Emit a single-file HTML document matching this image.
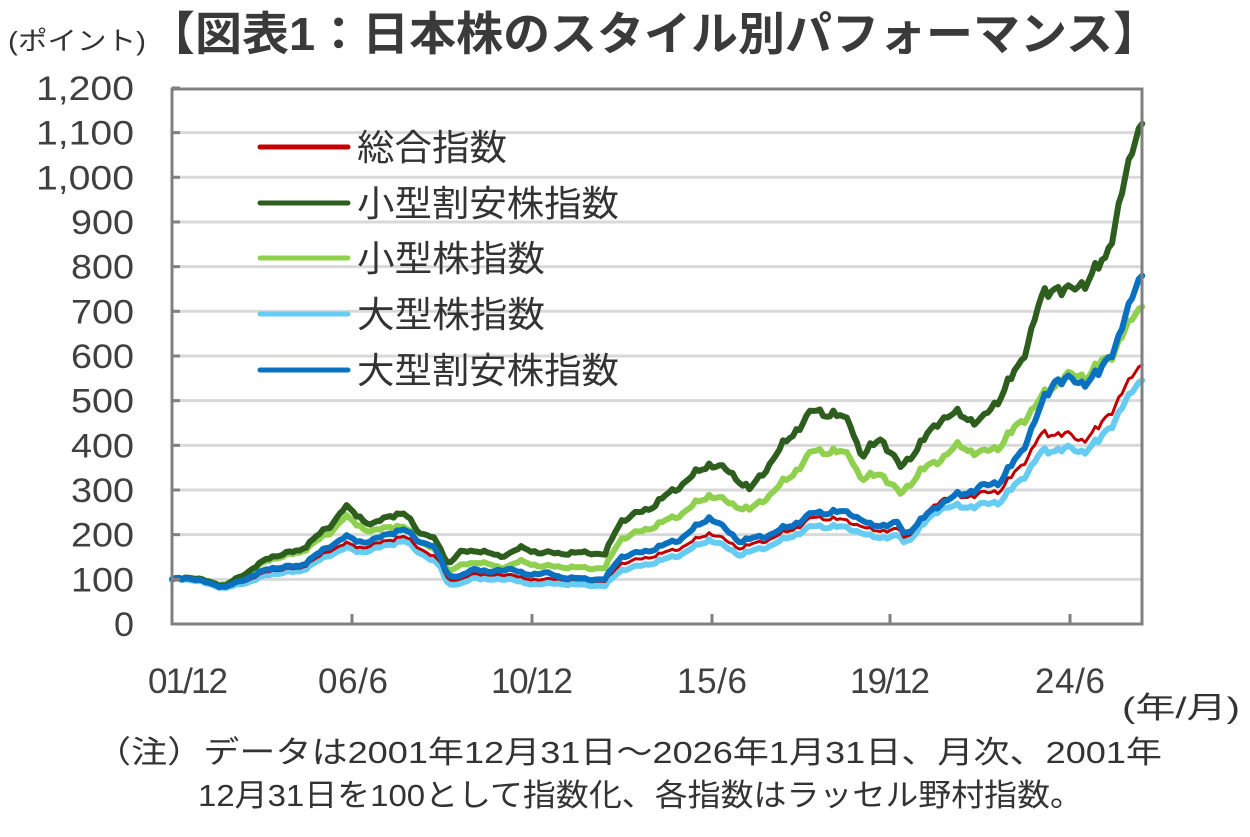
<!DOCTYPE html>
<html><head><meta charset="utf-8">
<style>
body{margin:0;width:1250px;height:832px;background:#fff;overflow:hidden;font-family:"Liberation Sans","Noto Sans CJK JP",sans-serif;color:#404040}
</style></head><body>
<svg id="s" width="1250" height="832" xmlns="http://www.w3.org/2000/svg" font-family="Liberation Sans, Noto Sans CJK JP, sans-serif">
<text x="8" y="50" font-size="26" fill="#333" textLength="138" lengthAdjust="spacingAndGlyphs">(ポイント)</text>
<text x="148" y="50" font-size="46" font-weight="bold" fill="#3a3a3a" textLength="1012" lengthAdjust="spacingAndGlyphs">【図表1：日本株のスタイル別パフォーマンス】</text>
<g id="grid"></g>
<g id="series" fill="none" stroke-linejoin="round" stroke-linecap="round"></g>
<rect x="172" y="89" width="970" height="535" fill="none" stroke="#808080" stroke-width="3"/>
<g id="ticks" stroke="#808080" stroke-width="3"></g>
<g font-size="35" fill="#404040" text-anchor="middle" lengthAdjust="spacingAndGlyphs">
<text x="188" y="693" textLength="80">01/12</text><text x="353" y="693" textLength="70">06/6</text><text x="532" y="693" textLength="82">10/12</text>
<text x="712" y="693" textLength="70">15/6</text><text x="890" y="693" textLength="80">19/12</text><text x="1070" y="693" textLength="70">24/6</text>
</g>
<g id="ylab" font-size="34" fill="#404040" text-anchor="end"></g>
<g font-size="36" fill="#333">
<line x1="260" y1="147" x2="348" y2="147" stroke="#c00000" stroke-width="5" stroke-linecap="round"/><text x="357" y="160" textLength="150" lengthAdjust="spacingAndGlyphs">総合指数</text>
<line x1="260" y1="203" x2="348" y2="203" stroke="#2e5e1e" stroke-width="5" stroke-linecap="round"/><text x="357" y="216" textLength="262" lengthAdjust="spacingAndGlyphs">小型割安株指数</text>
<line x1="260" y1="258" x2="348" y2="258" stroke="#8fd14f" stroke-width="5" stroke-linecap="round"/><text x="357" y="271" textLength="188" lengthAdjust="spacingAndGlyphs">小型株指数</text>
<line x1="260" y1="314" x2="348" y2="314" stroke="#66ccf2" stroke-width="5" stroke-linecap="round"/><text x="357" y="327" textLength="188" lengthAdjust="spacingAndGlyphs">大型株指数</text>
<line x1="260" y1="370" x2="348" y2="370" stroke="#0a70c0" stroke-width="5" stroke-linecap="round"/><text x="357" y="383" textLength="262" lengthAdjust="spacingAndGlyphs">大型割安株指数</text>
</g>
<text x="1122" y="718" font-size="30" fill="#333" textLength="118" lengthAdjust="spacingAndGlyphs">(年/月)</text>
<text x="95" y="763" font-size="31" fill="#333" textLength="1067" lengthAdjust="spacingAndGlyphs">（注）データは2001年12月31日～2026年1月31日、月次、2001年</text>
<text x="198" y="806" font-size="31" fill="#333" textLength="885" lengthAdjust="spacingAndGlyphs">12月31日を100として指数化、各指数はラッセル野村指数。</text>
</svg>
<script>
var NS="http://www.w3.org/2000/svg";
function el(t,a,p){var e=document.createElementNS(NS,t);for(var k in a)e.setAttribute(k,a[k]);p.appendChild(e);return e;}
var Y=function(v){return 624-v*0.4467;};
var g=document.getElementById('grid'),tk=document.getElementById('ticks'),yl=document.getElementById('ylab');
for(var i=0;i<=12;i++){var y=Y(i*100);
 if(i>0&&i<12)el('line',{x1:172,x2:1142,y1:y,y2:y,stroke:'#d9d9d9','stroke-width':3},g);
 el('line',{x1:172,x2:180,y1:y,y2:y},tk);
 var s=i==0?'0':(i>=10?'1,'+(i==10?'000':i==11?'100':'200'):(i*100)+'');
 var t=el('text',{x:134,y:y+12,textLength:s.length==5?98:s.length==3?63:20,lengthAdjust:'spacingAndGlyphs'},yl);t.textContent=s;}
[352,532,712,890,1070].forEach(function(x){el('line',{x1:x,x2:x,y1:624,y2:614},tk);});
var D={
dg:[[172,100],[190,105],[225,85],[250,120],[270,150],[300,165],[330,220],[345,262],[360,240],[372,220],[390,245],[405,245],[420,205],[432,195],[440,170],[448,135],[460,160],[480,165],[500,150],[520,170],[540,160],[560,158],[590,160],[605,155],[620,230],[650,260],[680,310],[710,360],[730,340],[750,300],[770,360],[790,420],[815,480],[830,470],[850,455],[862,370],[880,420],[900,350],[920,400],[940,460],[960,470],[980,450],[1000,510],[1020,580],[1040,720],[1055,760],[1070,740],[1090,780],[1105,810],[1120,950],[1140,1120]],
lg:[[172,100],[190,105],[225,87],[250,118],[270,145],[300,160],[330,205],[345,240],[360,220],[372,205],[390,220],[405,215],[420,185],[432,170],[440,150],[448,120],[460,130],[480,140],[500,125],[520,140],[540,130],[560,128],[590,125],[605,125],[620,190],[650,215],[680,245],[710,290],[730,270],[750,255],[770,290],[790,330],[815,390],[850,380],[862,320],[880,340],[900,290],[920,340],[960,400],[980,380],[1000,400],[1040,500],[1060,550],[1090,560],[1110,600],[1140,710]],
bl:[[172,100],[190,103],[225,82],[250,105],[270,125],[300,130],[330,175],[345,195],[360,185],[372,185],[390,205],[405,210],[420,185],[432,175],[440,150],[448,110],[460,105],[475,125],[490,115],[510,125],[525,110],[545,115],[560,105],[590,100],[605,100],[620,150],[650,165],[680,190],[710,240],[740,185],[770,200],[800,230],[815,250],[850,250],[870,220],[898,225],[905,200],[940,270],[960,290],[1000,320],[1020,380],[1040,480],[1055,550],[1080,540],[1100,560],[1120,650],[1140,780]],
rd:[[172,100],[190,102],[225,82],[250,100],[270,120],[300,125],[330,165],[345,180],[360,172],[372,175],[390,190],[405,195],[420,170],[440,140],[448,100],[460,98],[475,115],[490,108],[510,112],[525,100],[560,100],[605,95],[620,135],[650,150],[680,170],[710,205],[740,170],[770,190],[800,220],[815,240],[850,230],[870,210],[900,210],[905,190],[940,280],[980,290],[1000,300],[1020,350],[1040,420],[1060,430],[1080,410],[1100,440],[1140,580]],
lb:[[172,100],[190,100],[225,80],[250,95],[270,112],[300,118],[330,155],[345,170],[360,162],[372,165],[390,180],[405,185],[420,160],[440,130],[448,90],[460,88],[475,105],[490,98],[510,102],[525,90],[560,90],[605,85],[620,120],[650,135],[680,155],[710,190],[740,155],[770,175],[800,205],[815,220],[850,215],[870,195],[900,195],[905,180],[940,260],[980,265],[1000,275],[1020,320],[1040,380],[1060,395],[1080,385],[1100,410],[1140,545]]};
function interp(k,x){for(var i=1;i<k.length;i++)if(x<=k[i][0]){var a=k[i-1],b=k[i];return a[1]+(b[1]-a[1])*(x-a[0])/(b[0]-a[0]);}return k[k.length-1][1];}
function noise(m){return Math.sin(m*1.7)*0.6+Math.sin(m*0.73+1)*0.8+Math.sin(m*2.9+2)*0.4;}
var S=document.getElementById('series');
[['lg','#8fd14f',6],['dg','#2e5e1e',6],['lb','#66ccf2',6],['rd','#c00000',3],['bl','#0a70c0',6]].forEach(function(s){
 var d='';for(var m=0;m<=289;m++){var x=172+m*3.357;var v=interp(D[s[0]],x);if(m>0&&m<286)v*=1+noise(m)*0.018;d+=(m?'L':'M')+x.toFixed(1)+','+Y(v).toFixed(1);}
 el('path',{d:d,stroke:s[1],'stroke-width':s[2]},S);});
</script>
</body></html>
